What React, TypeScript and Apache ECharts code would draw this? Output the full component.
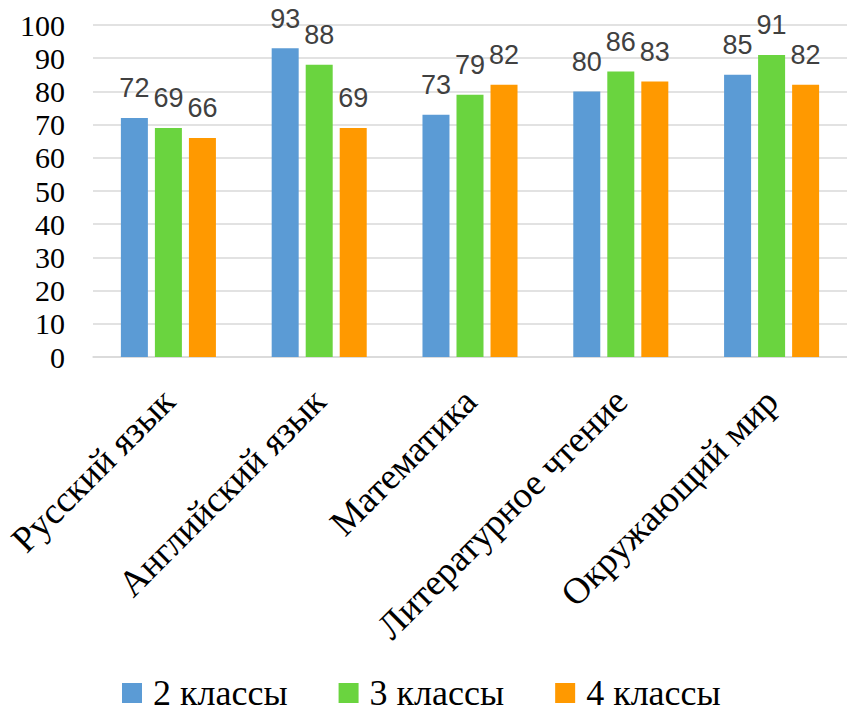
import React, { useEffect, useRef } from "react";
import * as echarts from "echarts";

const categories = [
  "Русский язык",
  "Английский язык",
  "Математика",
  "Литературное чтение",
  "Окружающий мир",
];
const seriesNames = ["2 классы", "3 классы", "4 классы"];
const grade2 = [72, 93, 73, 80, 85];
const grade3 = [69, 88, 79, 86, 91];
const grade4 = [66, 69, 82, 83, 82];
const colors = ["#5B9BD5", "#6AD43F", "#FF9900"];

const SERIF = "Liberation Serif";
const SANS = "Liberation Sans";

export default function App() {
  const ref = useRef<HTMLDivElement>(null);
  useEffect(() => {
    if (!ref.current) return;
    const chart = echarts.init(ref.current, undefined, { renderer: "svg" });
    const values = [grade2, grade3, grade4];
    chart.setOption({
      animation: false,
      backgroundColor: "#ffffff",
      color: colors,
      textStyle: { fontFamily: SERIF },
      grid: { left: 93, right: -11, top: 25, bottom: 356, containLabel: false },
      legend: {
        top: 675,
        left: 122,
        padding: 0,
        itemWidth: 20,
        itemHeight: 20,
        itemGap: 51,
        icon: "rect",
        textStyle: { fontFamily: SERIF, fontSize: 36, lineHeight: 36, color: "#000", padding: [0, 0, 0, 6] },
        data: seriesNames,
      },
      xAxis: {
        type: "category",
        data: categories,
        axisLine: { lineStyle: { color: "#D9D9D9", width: 1.5 } },
        axisTick: { show: false },
        axisLabel: {
          interval: 0,
          rotate: 45,
          margin: 38,
          fontFamily: SERIF,
          fontSize: 37,
          color: "#000",
        },
      },
      yAxis: {
        type: "value",
        min: 0,
        max: 100,
        interval: 10,
        axisLine: { show: false },
        axisTick: { show: false },
        splitLine: { lineStyle: { color: "#D9D9D9", width: 1.5 } },
        axisLabel: {
          margin: 28,
          fontFamily: SERIF,
          fontSize: 30,
          color: "#000",
        },
      },
      series: seriesNames.map((name, i) => ({
        name,
        type: "bar",
        data: values[i],
        barWidth: 27,
        barGap: "26%",
        itemStyle: { color: colors[i] },
        label: {
          show: true,
          position: "top",
          distance: 16,
          fontFamily: SANS,
          fontSize: 27,
          color: "#404040",
        },
      })),
    });
    return () => chart.dispose();
  }, []);
  return (
    <div
      ref={ref}
      style={{ position: "absolute", left: 0, top: 0, width: 847, height: 713 }}
    />
  );
}
